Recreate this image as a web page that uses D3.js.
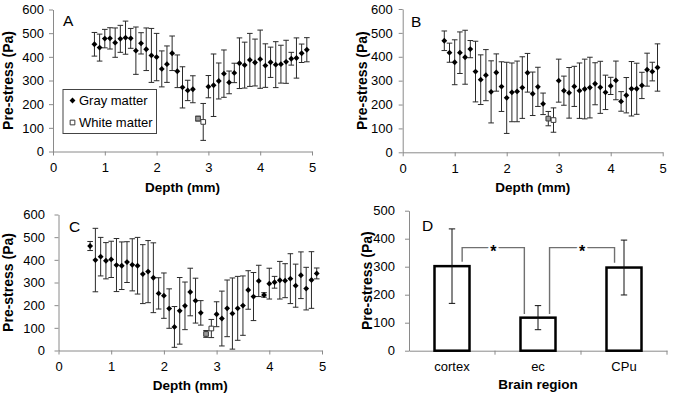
<!DOCTYPE html>
<html><head><meta charset="utf-8">
<script src="https://cdn.jsdelivr.net/npm/d3@7"></script>
<style>body{margin:0;background:#fff} svg{display:block} text{font-family:"Liberation Sans",Arial,sans-serif}</style>
</head><body><svg id="c" width="673" height="400"></svg>
<script>
// ---------------- DATA ----------------
const depthTicks = [0,1,2,3,4,5];
const stressTicks = [0,100,200,300,400,500,600];
const barTicks = [0,100,200,300,400,500];

const depthAB = [0.8,0.9,1.0,1.1,1.2,1.3,1.4,1.5,1.6,1.7,1.8,1.9,2.0,2.1,2.2,2.3,2.4,2.5,2.6,2.7,
                 3.0,3.1,3.2,3.3,3.4,3.5,3.6,3.7,3.8,3.9,4.0,4.1,4.2,4.3,4.4,4.5,4.6,4.7,4.8,4.9];
const depthC  = [0.6,0.7,0.8,0.9,1.0,1.1,1.2,1.3,1.4,1.5,1.6,1.7,1.8,1.9,2.0,2.1,2.2,2.3,2.4,2.5,2.6,2.7,
                 3.0,3.1,3.2,3.3,3.4,3.5,3.6,3.7,3.8,3.9,4.0,4.1,4.2,4.3,4.4,4.5,4.6,4.7,4.8,4.9];
const depthWhite = [2.8,2.9];

const grayA    = [453,439,477,478,460,476,481,478,426,457,432,406,399,349,369,415,339,271,258,263,
                  274,280,298,329,292,332,373,365,387,376,390,363,377,367,369,379,392,395,415,430];
const grayAerr = [50,57,39,45,62,57,70,42,100,45,90,114,100,76,77,73,69,87,43,57,
                  47,132,76,100,48,41,107,97,112,99,123,92,64,97,80,91,27,85,39,51];
const whiteA    = [139,125];
const whiteAerr = [10,78];

const grayB    = [467,417,377,417,398,432,338,304,323,253,334,275,228,251,255,271,333,245,274,203,
                  300,258,249,276,258,265,271,287,272,251,278,301,213,239,266,266,280,346,338,355];
const grayBerr = [41,40,94,87,113,36,127,104,107,130,78,104,149,123,127,129,81,91,82,45,
                  90,61,106,84,116,125,127,88,109,72,36,81,41,74,114,107,55,69,39,99];
const whiteB    = [141,135];
const whiteBerr = [30,51];

const grayC    = [461,399,414,396,402,377,374,390,378,374,337,348,321,252,242,185,104,175,197,258,220,166,
                  160,141,186,163,186,198,267,238,307,245,295,301,310,308,317,286,332,273,311,340];
const grayCerr = [20,140,85,80,80,117,105,90,115,125,130,137,154,69,100,87,90,147,105,105,99,54,
                  55,121,125,157,141,131,85,106,69,10,68,26,83,75,110,95,103,94,125,24];
const whiteC    = [73,97];
const whiteCerr = [15,40];

const regions   = ["cortex","ec","CPu"];
const regionVal = [302,118,297];
const regionErr = [133,43,98];
const sigPairs  = [["cortex","ec"],["ec","CPu"]];
const sigLevel  = [368,368];
const sigLegs   = [[318,131],[131,314]];
const sigLabel  = ["*","*"];

const legendLabels = ["Gray matter","White matter"];

// ---------------- DRAW ----------------
const svg = d3.select("#c");
const AX = "#8a8a8a";

function styleAxis(sel, fs){
  sel.select(".domain").attr("stroke",AX).attr("stroke-width",1);
  sel.selectAll(".tick line").attr("stroke",AX).attr("stroke-width",1);
  sel.selectAll(".tick text").attr("fill","#000").attr("font-size",fs)
     .attr("font-family",'"Liberation Sans",Arial,sans-serif');
}

const diamond = d3.symbol(d3.symbolSquare).size(17);
const square  = d3.symbol(d3.symbolSquare).size(22);

function scatterPanel(cfg){
  const x = d3.scaleLinear().domain([0,5]).range([cfg.x0,cfg.x1]);
  const y = d3.scaleLinear().domain([0,600]).range([cfg.y0,cfg.y1]);
  const g = svg.append("g");

  const xa = g.append("g").attr("transform",`translate(0,${cfg.y0})`)
    .call(d3.axisBottom(x).tickValues(depthTicks).tickFormat(d3.format("d"))
      .tickSize(4).tickSizeOuter(0).tickPadding(7));
  styleAxis(xa,13);
  const ya = g.append("g").attr("transform",`translate(${cfg.x0},0)`)
    .call(d3.axisLeft(y).tickValues(stressTicks).tickFormat(d3.format("d"))
      .tickSize(4).tickSizeOuter(0).tickPadding(cfg.ypad));
  styleAxis(ya,13);

  g.append("text").attr("x",(cfg.x0+cfg.x1)/2).attr("y",cfg.xtitleY)
    .attr("text-anchor","middle").attr("font-size",13.5).attr("font-weight","bold").text("Depth (mm)");
  g.append("text").attr("transform",`translate(${cfg.ytitleX},${(cfg.y0+cfg.y1)/2}) rotate(-90)`)
    .attr("text-anchor","middle").attr("font-size",14).attr("font-weight","bold").text("Pre-stress (Pa)");
  g.append("text").attr("x",cfg.lx).attr("y",cfg.ly).attr("font-size",15.5).text(cfg.letter);

  const cap = 2.8;
  function errBars(xs, vs, es, cls){
    const d = xs.map((xx,i)=>({x:xx,v:vs[i],e:es[i]}));
    const eg = g.append("g").attr("stroke","#2a2a2a").attr("stroke-width",1).attr("fill","none");
    eg.selectAll("path."+cls).data(d).join("path").attr("class",cls)
      .attr("d",p=>{
        const px=x(p.x), t=y(p.v+p.e), b=y(Math.max(p.v-p.e,0));
        return `M${px},${t}V${b}M${px-cap},${t}H${px+cap}M${px-cap},${b}H${px+cap}`;
      });
    return d;
  }
  const gd = errBars(cfg.gx, cfg.gv, cfg.ge, "eg");
  const wd = errBars(depthWhite, cfg.wv, cfg.we, "ew");

  g.append("g").selectAll("path").data(gd).join("path")
    .attr("d",diamond).attr("fill","#000")
    .attr("transform",p=>`translate(${x(p.x)},${y(p.v)}) rotate(45)`);
  g.append("g").selectAll("path").data(wd).join("path")
    .attr("d",square).attr("fill",(p,i)=>i===0?"#9a9a9a":"#fff").attr("stroke","#3a3a3a").attr("stroke-width",1)
    .attr("transform",p=>`translate(${x(p.x)},${y(p.v)})`);
  return g;
}

scatterPanel({letter:"A",x0:53,x1:312,y0:151.5,y1:9.5,ypad:5,xtitleY:192,ytitleX:13,lx:63,ly:26,
  gx:depthAB,gv:grayA,ge:grayAerr,wv:whiteA,we:whiteAerr});
scatterPanel({letter:"B",x0:402.7,x1:662.7,y0:152.3,y1:9,ypad:6,xtitleY:192,ytitleX:367,lx:411,ly:27,
  gx:depthAB,gv:grayB,ge:grayBerr,wv:whiteB,we:whiteBerr});
scatterPanel({letter:"C",x0:58.5,x1:322,y0:350.5,y1:214.5,ypad:9.5,xtitleY:389.5,ytitleX:13,lx:69,ly:232,
  gx:depthC,gv:grayC,ge:grayCerr,wv:whiteC,we:whiteCerr});

// Legend (panel A)
{
  const lg = svg.append("g").attr("transform","translate(63,89.5)");
  lg.append("rect").attr("width",93.5).attr("height",44).attr("fill","#fff").attr("stroke","#444").attr("stroke-width",1);
  lg.append("path").attr("d",diamond).attr("fill","#000").attr("transform","translate(9.5,11) rotate(45)");
  lg.append("path").attr("d",square).attr("fill","#fff").attr("stroke","#3a3a3a").attr("transform","translate(9.5,33)");
  lg.selectAll("text").data(legendLabels).join("text")
    .attr("x",16).attr("y",(d,i)=>15+i*22).attr("font-size",13).text(d=>d);
}

// Panel D
{
  const x0=409, x1=667, y0=350.7, y1=210.7;
  const x = d3.scaleBand().domain(regions).range([x0,x1]).paddingInner(0.593).paddingOuter(0.2965);
  const y = d3.scaleLinear().domain([0,500]).range([y0,y1]);
  const g = svg.append("g");
  const step = x.step();

  const ya = g.append("g").attr("transform",`translate(${x0},0)`)
    .call(d3.axisLeft(y).tickValues(barTicks).tickSize(4).tickSizeOuter(0).tickPadding(10));
  styleAxis(ya,13);
  const xa = g.append("g").attr("transform",`translate(0,${y0})`)
    .call(d3.axisBottom(x).tickSize(0).tickSizeOuter(0).tickPadding(11));
  styleAxis(xa,13);
  // category separator ticks
  xa.selectAll("line.sep").data(regions).join("line").attr("class","sep")
    .attr("x1",d=>x(d)-x.bandwidth()*0+ (x.step()-x.bandwidth())/2*-1 + 0)
    .attr("x1",d=>x(d)+x.bandwidth()/2+step/2).attr("x2",d=>x(d)+x.bandwidth()/2+step/2)
    .attr("y1",0).attr("y2",4).attr("stroke",AX);

  g.append("text").attr("x",(x0+x1)/2).attr("y",389).attr("text-anchor","middle")
    .attr("font-size",13.5).attr("font-weight","bold").text("Brain region");
  g.append("text").attr("transform",`translate(372,${(y0+y1)/2}) rotate(-90)`)
    .attr("text-anchor","middle").attr("font-size",14).attr("font-weight","bold").text("Pre-stress (Pa)");
  g.append("text").attr("x",422).attr("y",231).attr("font-size",15.5).text("D");

  const bd = regions.map((r,i)=>({r,v:regionVal[i],e:regionErr[i]}));
  g.append("g").selectAll("rect").data(bd).join("rect")
    .attr("x",d=>x(d.r)).attr("width",x.bandwidth())
    .attr("y",d=>y(d.v)).attr("height",d=>y0-y(d.v))
    .attr("fill","#fff").attr("stroke","#000").attr("stroke-width",2.5);
  const cap=3.2;
  g.append("g").attr("stroke","#111").attr("stroke-width",1).attr("fill","none")
    .selectAll("path").data(bd).join("path")
    .attr("d",d=>{const cx=x(d.r)+x.bandwidth()/2, t=y(d.v+d.e), b=y(d.v-d.e);
      return `M${cx},${t}V${b}M${cx-cap},${t}H${cx+cap}M${cx-cap},${b}H${cx+cap}`;});

  // significance brackets
  const legOff = [[0.79,0.11],[0.83,0.23]];
  sigPairs.forEach((p,i)=>{
    const xa_ = x(p[0])+x.bandwidth()*legOff[i][0];
    const xb_ = x(p[1])+x.bandwidth()*legOff[i][1];
    const yl = y(sigLevel[i]);
    g.append("path").attr("fill","none").attr("stroke","#707070").attr("stroke-width",1.4)
      .attr("d",`M${xa_},${y(sigLegs[i][0])}V${yl}H${xb_}V${y(sigLegs[i][1])}`);
    g.append("text").attr("x",(xa_+xb_)/2).attr("y",yl+9.5).attr("text-anchor","middle")
      .attr("font-size",16).attr("font-weight","bold")
      .attr("stroke","#fff").attr("stroke-width",4).attr("paint-order","stroke")
      .text(sigLabel[i]);
  });
}
</script></body></html>
